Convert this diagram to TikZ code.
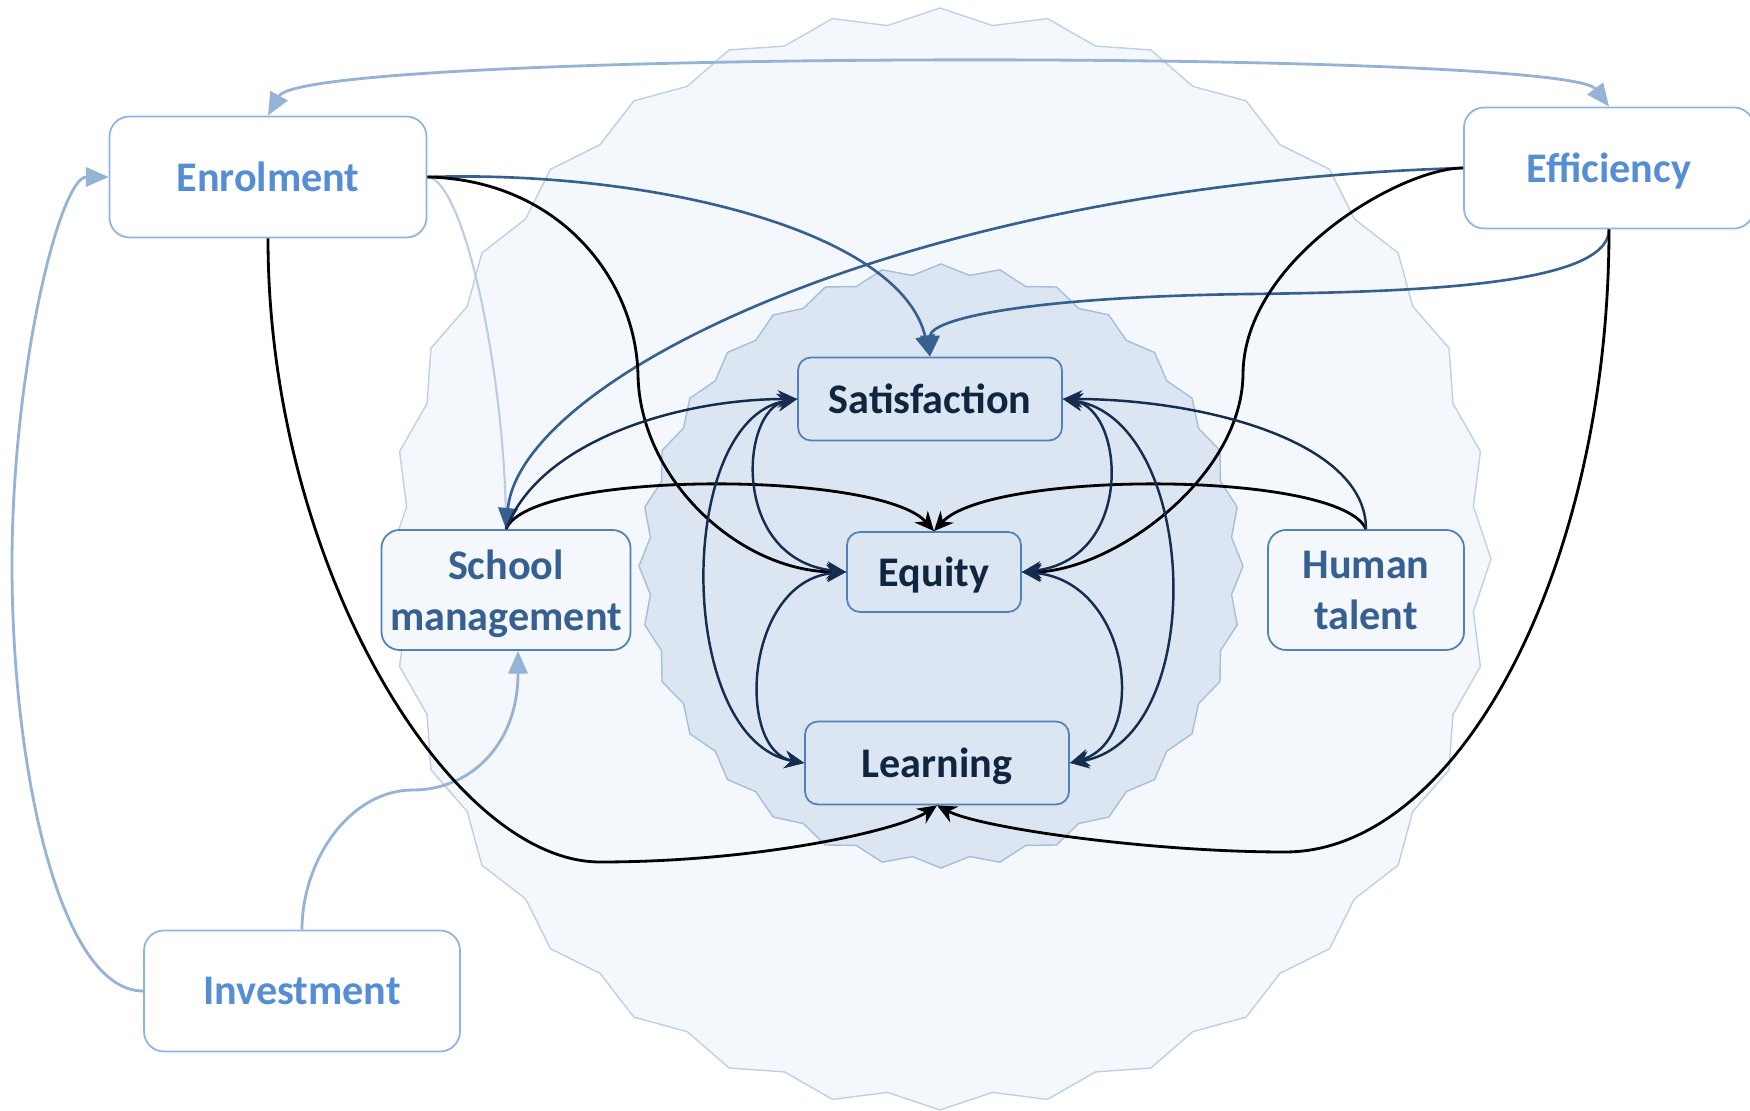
\documentclass[tikz,border=0pt]{standalone}
\usepackage{fontspec}
\setmainfont{Carlito}
\usetikzlibrary{arrows.meta,calc}

\definecolor{sealout}{RGB}{244,248,252}
\definecolor{sealoutline}{RGB}{190,208,232}
\definecolor{sealin}{RGB}{220,230,242}
\definecolor{sealinline}{RGB}{165,190,222}
\definecolor{outerline}{RGB}{142,180,227}
\definecolor{midline}{RGB}{79,129,189}
\definecolor{outertext}{RGB}{85,142,213}
\definecolor{midtext}{RGB}{54,96,146}
\definecolor{coretext}{RGB}{16,37,63}
\definecolor{lightlinkc}{RGB}{149,179,215}
\definecolor{palelinkc}{RGB}{185,205,229}
\definecolor{steellinkc}{RGB}{54,96,146}
\definecolor{navylinkc}{RGB}{21,45,80}

\tikzset{
	boxtext/.style={align=center, inner sep=0pt, text depth=0pt, line width=0.5pt, font=\bfseries\fontsize{12}{14.6}\selectfont},
	outerbox/.style={boxtext, rounded corners=2mm, draw=outerline, fill=white, text=outertext},
	midbox/.style={boxtext, rounded corners=1.8mm, draw=midline, fill=sealout, text=midtext},
	corebox/.style={boxtext, rounded corners=1.3mm, draw=midline, fill=sealin, text=coretext},
	lightlink/.style={lightlinkc, line width=0.8pt},
	palelink/.style={palelinkc, line width=0.6pt},
	steellink/.style={steellinkc, line width=0.75pt, -{Triangle[length=6pt,width=5.5pt]}},
	navylink/.style={navylinkc, line width=0.7pt, -{Stealth[length=5.5pt,width=5pt]}},
	blklink/.style={black, line width=0.8pt, -{Stealth[length=5.5pt,width=5pt]}},
	corelink/.style={navylinkc, line width=0.7pt, {Stealth[length=5.5pt,width=5pt]}-{Stealth[length=5.5pt,width=5pt]}}
}

\begin{document}
\begin{tikzpicture}[x=0.1mm, y=-0.1mm]
	%%%%% FRAME %%%%%
	\useasboundingbox (0,0) rectangle (1750,1111);
	
	%%%%% SEALS %%%%%
	\draw[fill=sealout, draw=sealoutline, line width=0.4pt] plot[domain=0:63, samples=64, variable=\k] ({940+(543.5+7.5*cos(\k*180))*cos(90+\k*5.625)}, {559+(543.5+7.5*cos(\k*180))*sin(90+\k*5.625)}) -- cycle;
	\draw[fill=sealin, draw=sealinline, line width=0.4pt] plot[domain=0:63, samples=64, variable=\k] ({941+(297+5*cos(\k*180))*cos(90+\k*5.625)}, {566+(297+5*cos(\k*180))*sin(90+\k*5.625)}) -- cycle;
	
	%%%%% NODES %%%%%
	\node[outerbox, minimum width=31.7mm, minimum height=12.1mm] (enrol) at (268,177) {Enrolment};
	\node[outerbox, minimum width=29mm, minimum height=12.1mm] (effic) at (1609,168) {Efficiency};
	\node[outerbox, minimum width=31.6mm, minimum height=12.1mm] (invest) at (302,991) {Investment};
	\node[midbox, minimum width=24.9mm, minimum height=12mm] (school) at (506,590) {School\\management};
	\node[midbox, minimum width=19.6mm, minimum height=12mm] (human) at (1366,590) {Human\\talent};
	\node[corebox, minimum width=26.4mm, minimum height=8.3mm] (satis) at (930,399) {Satisfaction};
	\node[corebox, minimum width=17.4mm, minimum height=8mm] (equity) at (934,572) {Equity};
	\node[corebox, minimum width=26.4mm, minimum height=8.3mm] (learn) at (937,763) {Learning};
	
	%%%%% OUTER LINKS %%%%%
	\draw[lightlink, {Triangle[length=6.5pt,width=5.5pt]}-{Triangle[length=6.5pt,width=5.5pt]}] (enrol.north) .. controls (305,49) and (1565,49) .. (effic.north);
	\draw[lightlink, -{Triangle[length=6.5pt,width=5.5pt]}] (invest.west) .. controls (60,991) and (12,770) .. (12,565) .. controls (12,370) and (60,177) .. (enrol.west);
	\draw[lightlink, -{Triangle[length=6.5pt,width=5.5pt]}] (invest.north) .. controls (302,860) and (350,790) .. (413,790) .. controls (470,790) and (518,745) .. ($(school.south)+(12,0)$);
	\draw[palelink] (enrol.east) .. controls (465,180) and (506,380) .. (school.north);
	
	\draw[steellink] (enrol.east) .. controls (650,170) and (900,230) .. (satis.north);
	\draw[steellink] (effic.south) .. controls (1609,285) and (1420,292) .. (1250,294) .. controls (1020,297) and (930,320) .. (satis.north);
	\draw[steellink] (effic.west) .. controls (900,185) and (520,380) .. (school.north);
	
	\draw[blklink] (enrol.east) .. controls (560,180) and (636,280) .. (638,375) .. controls (640,480) and (740,572) .. (equity.west);
	\draw[blklink] (effic.west) .. controls (1400,168) and (1243,260) .. (1243,375) .. controls (1241,480) and (1110,572) .. (equity.east);
	\draw[blklink] (enrol.south) .. controls (268,565) and (450,862) .. (600,862) .. controls (760,862) and (900,830) .. (learn.south);
	\draw[blklink] (effic.south) .. controls (1609,565) and (1460,852) .. (1285,852) .. controls (1150,852) and (980,828) .. (learn.south);
	\draw[blklink] (school.north) .. controls (530,470) and (880,470) .. (equity.north);
	\draw[blklink] (human.north) .. controls (1340,470) and (990,470) .. (equity.north);
	
	\draw[navylink] (school.north) .. controls (540,440) and (680,399) .. (satis.west);
	\draw[navylink] (human.north) .. controls (1366,440) and (1200,399) .. (satis.east);
	
	%%%%% CORE LINKS %%%%%
	\draw[corelink] (satis.west) .. controls (740,410) and (730,560) .. (equity.west);
	\draw[corelink] (satis.west) .. controls (675,420) and (675,740) .. (learn.west);
	\draw[corelink] (equity.west) .. controls (745,580) and (735,750) .. (learn.west);
	\draw[corelink] (satis.east) .. controls (1125,410) and (1135,560) .. (equity.east);
	\draw[corelink] (satis.east) .. controls (1200,420) and (1210,740) .. (learn.east);
	\draw[corelink] (equity.east) .. controls (1130,580) and (1150,740) .. (learn.east);
\end{tikzpicture}
\end{document}
